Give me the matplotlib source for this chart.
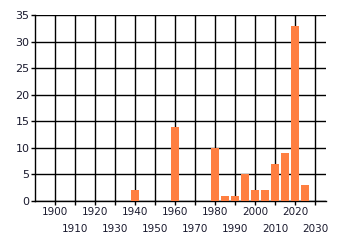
import matplotlib
matplotlib.use('Agg')
import matplotlib.pyplot as plt

years = [1940, 1960, 1980, 1985, 1990, 1995, 2000, 2005, 2010, 2015, 2020, 2025]
counts = [2, 14, 10, 1, 1, 5, 2, 2, 7, 9, 33, 3]
upper_years = [1900, 1920, 1940, 1960, 1980, 2000, 2020]
lower_years = [1910, 1930, 1950, 1970, 1990, 2010, 2030]
yticks = [0, 5, 10, 15, 20, 25, 30, 35]

fig = plt.figure(figsize=(3.4, 2.45), dpi=100)
ax = fig.add_axes([35/340, 44/245, 291/340, 186/245])

ax.bar(years, counts, width=4, color='#ff7f41', zorder=3)

ax.set_xlim(1890, 2035.5)
ax.set_ylim(0, 35)
# staggered labels: even decades on the first row, odd ones below
ax.set_xticks(upper_years)
ax.set_xticklabels([str(y) for y in upper_years])
ax.set_xticks(lower_years, minor=True)
ax.set_xticklabels([str(y) for y in lower_years], minor=True)
ax.set_yticks(yticks)
ax.grid(True, which='both', color='black', linewidth=1, zorder=0)
ax.set_axisbelow(True)

for s in ['top', 'right']:
    ax.spines[s].set_visible(False)
for s in ['left', 'bottom']:
    ax.spines[s].set_linewidth(1)

ax.tick_params(axis='x', which='major', length=3, width=1, pad=1.5, labelsize=7.5,
               color='black', labelcolor='#1a1a2e')
ax.tick_params(axis='x', which='minor', length=3, width=1, pad=13.5, labelsize=7.5,
               color='black', labelcolor='#1a1a2e')
ax.tick_params(axis='y', length=3, width=1, pad=1, labelsize=8,
               color='black', labelcolor='#1a1a2e')

fig.savefig('out.png', dpi=100)
